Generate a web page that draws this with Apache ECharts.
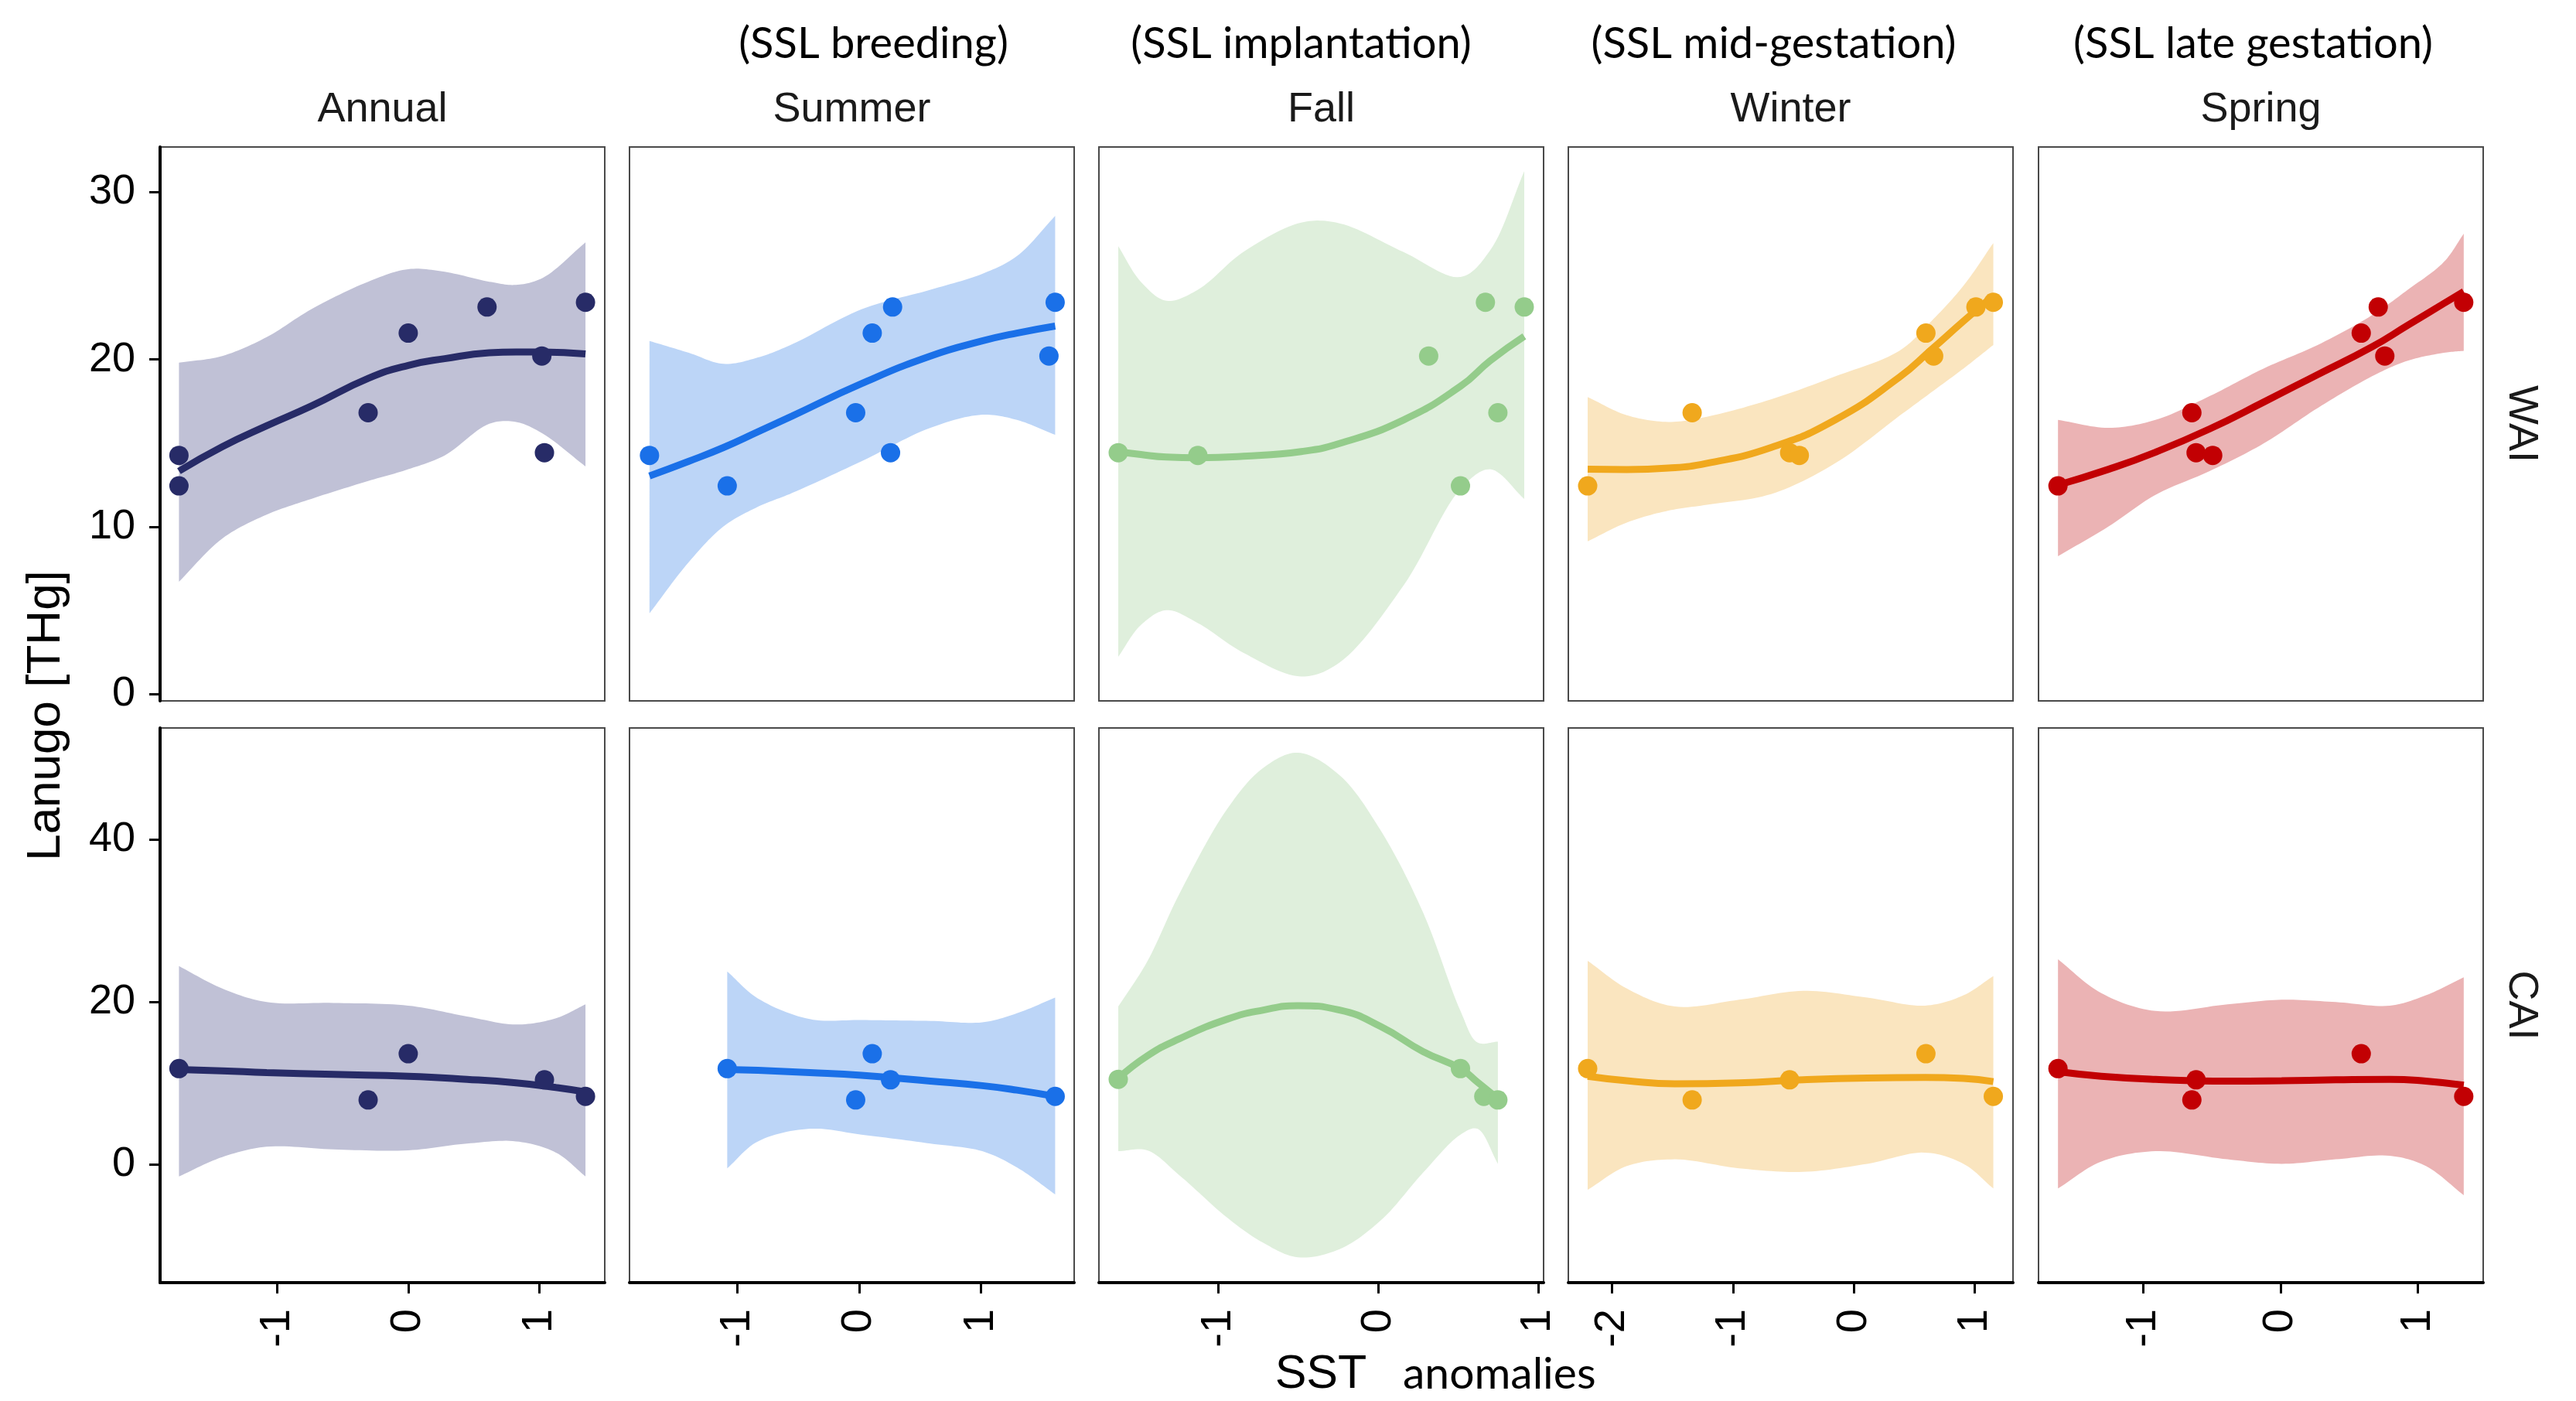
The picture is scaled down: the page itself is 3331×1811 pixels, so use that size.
<!DOCTYPE html>
<html>
<head>
<meta charset="utf-8">
<script src="https://cdn.jsdelivr.net/npm/echarts@6/dist/echarts.min.js"></script>
<style>
  html, body { margin: 0; background: #fff; }
  #chart { width: 3331px; height: 1811px; }
</style>
</head>
<body>
<div id="chart"></div>
<script>
// facet labels
const seasons = ['Annual', 'Summer', 'Fall', 'Winter', 'Spring'];
const phases = ['', '(SSL breeding)', '(SSL implantation)', '(SSL mid-gestation)', '(SSL late gestation)'];
const regions = ['WAI', 'CAI'];

// axes
const xRanges = [[-1.893, 1.499], [-1.884, 1.765], [-1.748, 1.034], [-2.363, 1.318], [-1.766, 1.479]];
const xTicks = [[-1, 0, 1], [-1, 0, 1], [-1, 0, 1], [-2, -1, 0, 1], [-1, 0, 1]];
const yRanges = [[-0.4, 32.7], [-14.5, 53.7]];
const yTicks = [[0, 10, 20, 30], [0, 20, 40]];

const lineColors = ['#272b67', '#1a70e8', '#94cc8b', '#f0a81d', '#c20003'];
const ribbonColors = ['#c0c1d6', '#bcd5f7', '#dfefdc', '#fae5bf', '#ebb3b4'];

// ---- WAI : points [SST anomaly, Lanugo THg] + smooth fit with band ----
const waiAnnualPts = [[-1.749, 14.27], [-1.749, 12.45], [-0.306, 16.82], [0, 21.58], [0.601, 23.14], [1.019, 20.21], [1.039, 14.43], [1.352, 23.42]];
const waiAnnualX = [-1.749, -1.419, -1.080, -0.740, -0.306, 0, 0.278, 0.618, 0.822, 1.026, 1.352];
const waiAnnualFit = [13.33, 14.79, 16.04, 17.22, 18.87, 19.65, 20.05, 20.40, 20.45, 20.45, 20.33];
const waiAnnualLo = [6.72, 9.30, 10.73, 11.67, 12.74, 13.44, 14.27, 16.16, 16.27, 15.57, 13.61];
const waiAnnualHi = [19.81, 20.21, 21.34, 23.00, 24.65, 25.40, 25.24, 24.65, 24.46, 24.88, 27.00];

const waiSummerPts = [[-1.720, 14.27], [-1.082, 12.45], [-0.028, 16.82], [0.108, 21.58], [0.275, 23.14], [0.258, 14.43], [1.558, 20.21], [1.609, 23.42]];
const waiSummerX = [-1.720, -1.397, -1.113, -0.830, -0.547, 0.020, 0.586, 1.011, 1.295, 1.609];
const waiSummerFit = [13.04, 13.92, 14.74, 15.68, 16.63, 18.56, 20.21, 21.11, 21.58, 22.00];
const waiSummerLo = [4.83, 7.90, 10.02, 11.20, 12.03, 13.92, 15.92, 16.70, 16.39, 15.50];
const waiSummerHi = [21.11, 20.40, 19.74, 20.12, 20.92, 23.00, 24.17, 25.12, 26.18, 28.58];

const waiFallPts = [[-1.627, 14.43], [-1.129, 14.27], [0.315, 20.21], [0.514, 12.45], [0.670, 23.42], [0.748, 16.82], [0.913, 23.14]];
const waiFallX = [-1.627, -1.486, -1.326, -1.129, -0.845, -0.483, -0.243, 0.158, 0.514, 0.700, 0.913];
const waiFallFit = [14.50, 14.32, 14.17, 14.13, 14.22, 14.50, 14.98, 16.39, 18.40, 19.93, 21.39];
const waiFallLo = [2.24, 4.13, 5.02, 4.25, 2.48, 1.06, 1.89, 6.50, 12.26, 13.44, 11.67];
const waiFallHi = [26.77, 24.65, 23.51, 24.17, 26.42, 28.18, 28.14, 26.42, 24.93, 26.53, 31.25];

const waiWinterPts = [[-2.203, 12.45], [-1.338, 16.82], [-0.531, 14.43], [-0.451, 14.27], [0.597, 21.58], [0.661, 20.21], [1.011, 23.14], [1.155, 23.42]];
const waiWinterX = [-2.203, -1.879, -1.534, -1.216, -0.685, -0.154, 0.377, 0.642, 0.908, 1.155];
const waiWinterFit = [13.44, 13.42, 13.51, 13.80, 14.74, 16.39, 18.94, 20.59, 22.29, 23.82];
const waiWinterLo = [9.13, 10.26, 10.97, 11.32, 11.96, 13.80, 16.63, 18.04, 19.46, 20.87];
const waiWinterHi = [17.76, 16.67, 16.27, 16.58, 17.62, 18.99, 20.52, 22.29, 24.41, 26.96];

const waiSpringPts = [[-1.624, 12.45], [-0.647, 16.82], [-0.616, 14.43], [-0.495, 14.27], [0.589, 21.58], [0.713, 23.14], [0.761, 20.21], [1.337, 23.42]];
const waiSpringX = [-1.624, -1.255, -0.913, -0.518, -0.124, 0.271, 0.666, 0.929, 1.192, 1.337];
const waiSpringFit = [12.50, 13.44, 14.46, 15.85, 17.45, 19.10, 20.75, 22.05, 23.35, 24.06];
const waiSpringLo = [8.25, 10.02, 11.91, 13.33, 14.98, 17.10, 18.99, 19.93, 20.40, 20.52];
const waiSpringHi = [16.39, 15.92, 16.39, 17.81, 19.46, 20.87, 22.64, 24.17, 25.83, 27.52];

// ---- CAI ----
const caiAnnualPts = [[-1.749, 11.82], [-0.306, 7.96], [0, 13.65], [1.039, 10.44], [1.352, 8.40]];
const caiAnnualX = [-1.749, -1.419, -1.080, -0.570, 0, 0.448, 0.822, 1.127, 1.352];
const caiAnnualFit = [11.71, 11.55, 11.33, 11.10, 10.88, 10.50, 10.06, 9.50, 8.95];
const caiAnnualLo = [-1.44, 0.94, 2.21, 1.88, 1.77, 2.60, 2.87, 1.49, -1.44];
const caiAnnualHi = [24.42, 21.66, 20.00, 19.89, 19.56, 18.23, 17.24, 18.01, 19.72];

const caiSummerPts = [[-1.082, 11.82], [-0.028, 7.96], [0.108, 13.65], [0.258, 10.44], [1.609, 8.40]];
const caiSummerX = [-1.082, -0.830, -0.405, 0.020, 0.586, 1.011, 1.295, 1.609];
const caiSummerFit = [11.71, 11.60, 11.33, 10.99, 10.28, 9.72, 9.17, 8.40];
const caiSummerLo = [-0.44, 2.87, 4.42, 3.70, 2.60, 1.66, -0.33, -3.65];
const caiSummerHi = [23.76, 20.44, 17.90, 17.79, 17.68, 17.51, 18.62, 20.55];

const caiFallPts = [[-1.627, 10.50], [0.514, 11.82], [0.660, 8.40], [0.748, 7.96]];
const caiFallX = [-1.627, -1.446, -1.246, -0.945, -0.724, -0.504, -0.243, 0.018, 0.279, 0.514, 0.620, 0.748];
const caiFallFit = [10.61, 13.37, 15.47, 17.90, 19.00, 19.56, 19.01, 16.96, 13.92, 11.82, 10.17, 8.12];
const caiFallLo = [1.66, 1.77, -1.27, -6.52, -9.56, -11.38, -10.39, -6.80, -0.99, 3.70, 4.42, 0.11];
const caiFallHi = [19.45, 24.97, 33.26, 43.76, 48.73, 50.66, 47.90, 40.99, 31.05, 18.90, 15.03, 15.14];

const caiWinterPts = [[-2.203, 11.82], [-1.338, 7.96], [-0.531, 10.44], [0.597, 13.65], [1.155, 8.40]];
const caiWinterX = [-2.203, -1.879, -1.481, -0.950, -0.419, 0.111, 0.589, 0.908, 1.155];
const caiWinterFit = [10.88, 10.33, 9.94, 10.06, 10.44, 10.66, 10.72, 10.61, 10.22];
const caiWinterLo = [-3.09, -0.17, 0.66, -0.44, -0.88, 0.11, 1.49, 0.11, -2.93];
const caiWinterHi = [25.08, 21.66, 19.45, 20.28, 21.38, 20.55, 19.56, 20.83, 23.20];

const caiSpringPts = [[-1.624, 11.82], [-0.616, 10.44], [-0.647, 7.96], [0.589, 13.65], [1.337, 8.40]];
const caiSpringX = [-1.624, -1.308, -0.913, -0.387, 0.008, 0.403, 0.797, 1.061, 1.337];
const caiSpringFit = [11.44, 10.88, 10.50, 10.28, 10.33, 10.44, 10.50, 10.28, 9.78];
const caiSpringLo = [-2.93, 0.39, 1.66, 0.66, 0.11, 0.66, 1.10, -0.17, -3.76];
const caiSpringHi = [25.25, 21.10, 18.90, 19.72, 20.28, 20.00, 19.56, 20.83, 23.04];

// rows: WAI then CAI, columns follow seasons
const panels = [
  [waiAnnualPts, waiAnnualX, waiAnnualFit, waiAnnualLo, waiAnnualHi],
  [waiSummerPts, waiSummerX, waiSummerFit, waiSummerLo, waiSummerHi],
  [waiFallPts, waiFallX, waiFallFit, waiFallLo, waiFallHi],
  [waiWinterPts, waiWinterX, waiWinterFit, waiWinterLo, waiWinterHi],
  [waiSpringPts, waiSpringX, waiSpringFit, waiSpringLo, waiSpringHi],
  [caiAnnualPts, caiAnnualX, caiAnnualFit, caiAnnualLo, caiAnnualHi],
  [caiSummerPts, caiSummerX, caiSummerFit, caiSummerLo, caiSummerHi],
  [caiFallPts, caiFallX, caiFallFit, caiFallLo, caiFallHi],
  [caiWinterPts, caiWinterX, caiWinterFit, caiWinterLo, caiWinterHi],
  [caiSpringPts, caiSpringX, caiSpringFit, caiSpringLo, caiSpringHi]
];

// layout (px)
const panelLeft = [207, 814, 1421, 2028, 2636];
const panelW = 575;
const panelTop = [190, 941];
const panelH = [716, 717];
const phaseShift = [0, 28, -26, -22, -10];

const sansFont = '"Liberation Sans", Arial, sans-serif';
const noteFont = 'Lato, "Open Sans", sans-serif';

const zip = (xs, ys) => xs.map((x, i) => [x, ys[i]]);

// centripetal catmull-rom through pixel points, only to draw a round band outline
const spline = (pts, steps) => {
  const n = pts.length, out = [];
  const get = k => {
    if (k < 0) return [2 * pts[0][0] - pts[1][0], 2 * pts[0][1] - pts[1][1]];
    if (k > n - 1) return [2 * pts[n - 1][0] - pts[n - 2][0], 2 * pts[n - 1][1] - pts[n - 2][1]];
    return pts[k];
  };
  const knot = (a, b) => Math.pow(Math.hypot(b[0] - a[0], b[1] - a[1]), 0.5) || 1e-6;
  const mix = (a, b, ta, tb, t) => [0, 1].map(d => ((tb - t) * a[d] + (t - ta) * b[d]) / (tb - ta));
  for (let i = 0; i < n - 1; i++) {
    const p0 = get(i - 1), p1 = get(i), p2 = get(i + 1), p3 = get(i + 2);
    const t0 = 0, t1 = t0 + knot(p0, p1), t2 = t1 + knot(p1, p2), t3 = t2 + knot(p2, p3);
    for (let s = 0; s < steps; s++) {
      const t = t1 + (t2 - t1) * s / steps;
      const a1 = mix(p0, p1, t0, t1, t), a2 = mix(p1, p2, t1, t2, t), a3 = mix(p2, p3, t2, t3, t);
      const b1 = mix(a1, a2, t0, t2, t), b2 = mix(a2, a3, t1, t3, t);
      out.push(mix(b1, b2, t1, t2, t));
    }
  }
  out.push(pts[n - 1]);
  return out;
};

const grids = [], xAxes = [], yAxes = [], series = [];

panels.forEach((p, i) => {
  const row = Math.floor(i / 5), col = i % 5;
  const [pts, xs, fit, lo, hi] = p;
  const isBottom = row === 1, isLeft = col === 0;

  grids.push({
    left: panelLeft[col], top: panelTop[row], width: panelW, height: panelH[row],
    show: true, borderColor: '#4a4a4a', borderWidth: 2, backgroundColor: 'transparent'
  });
  xAxes.push({
    gridIndex: i, type: 'value', min: xRanges[col][0], max: xRanges[col][1],
    axisLine: { show: isBottom, onZero: false, lineStyle: { color: '#000', width: 4 } },
    axisTick: { show: isBottom, customValues: xTicks[col], length: 14, lineStyle: { color: '#000', width: 3 } },
    axisLabel: {
      show: isBottom, customValues: xTicks[col], rotate: 90, margin: 34,
      fontSize: 56, fontFamily: sansFont, color: '#000'
    },
    splitLine: { show: false }
  });
  yAxes.push({
    gridIndex: i, type: 'value', min: yRanges[row][0], max: yRanges[row][1],
    axisLine: { show: isLeft, onZero: false, lineStyle: { color: '#000', width: 4 } },
    axisTick: { show: isLeft, customValues: yTicks[row], length: 14, lineStyle: { color: '#000', width: 3 } },
    axisLabel: {
      show: isLeft, customValues: yTicks[row], margin: 32,
      fontSize: 54, fontFamily: sansFont, color: '#000'
    },
    splitLine: { show: false }
  });

  // confidence band: one polygon, upper edge then lower edge back
  series.push({
    type: 'custom', xAxisIndex: i, yAxisIndex: i,
    data: xs.map((x, k) => [x, lo[k], hi[k]]),
    renderItem: (params, api) => {
      if (params.dataIndex !== 0) return null;
      const up = xs.map((x, k) => api.coord([x, hi[k]]));
      const dn = xs.map((x, k) => api.coord([x, lo[k]])).reverse();
      return {
        type: 'polygon',
        shape: { points: spline(up, 14).concat(spline(dn, 14)) },
        style: { fill: ribbonColors[col] }
      };
    },
    clip: true, z: 1, silent: true
  });
  // fitted curve
  series.push({
    type: 'line', xAxisIndex: i, yAxisIndex: i, data: zip(xs, fit),
    smooth: true, symbol: 'none', lineStyle: { color: lineColors[col], width: 9 }, z: 3, silent: true
  });
  // observations
  series.push({
    type: 'scatter', xAxisIndex: i, yAxisIndex: i, data: pts,
    symbolSize: 25, itemStyle: { color: lineColors[col], opacity: 1 }, z: 4, silent: true
  });
});

// facet strips, notes and axis titles
const graphics = [];
seasons.forEach((s, c) => {
  const cx = panelLeft[c] + panelW / 2;
  graphics.push({
    type: 'text', x: cx, y: 142,
    style: { text: s, fontSize: 54, fontFamily: sansFont, fill: '#1a1a1a', align: 'center', verticalAlign: 'middle' }
  });
  if (phases[c]) {
    graphics.push({
      type: 'text', x: cx + phaseShift[c], y: 57,
      style: { text: phases[c], fontSize: 56, fontFamily: noteFont, fill: '#000', align: 'center', verticalAlign: 'middle' }
    });
  }
});
regions.forEach((r, k) => {
  graphics.push({
    type: 'text', x: 3260, y: panelTop[k] + panelH[k] / 2, rotation: -Math.PI / 2,
    style: { text: r, fontSize: 54, fontFamily: sansFont, fill: '#1a1a1a', align: 'center', verticalAlign: 'middle' }
  });
});
graphics.push({
  type: 'text', x: 60, y: 925, rotation: Math.PI / 2,
  style: { text: 'Lanugo [THg]', fontSize: 62, fontFamily: sansFont, fill: '#000', align: 'center', verticalAlign: 'middle' }
});
graphics.push({
  type: 'text', x: 1708, y: 1777,
  style: { text: 'SST', fontSize: 61, fontFamily: sansFont, fill: '#000', align: 'center', verticalAlign: 'middle' }
});
graphics.push({
  type: 'text', x: 1814, y: 1777,
  style: { text: 'anomalies', fontSize: 57, fontFamily: noteFont, fill: '#000', align: 'left', verticalAlign: 'middle' }
});

const chart = echarts.init(document.getElementById('chart'), null, { renderer: 'canvas' });
chart.setOption({
  animation: false,
  backgroundColor: '#fff',
  grid: grids,
  xAxis: xAxes,
  yAxis: yAxes,
  series: series,
  graphic: graphics
});
</script>
</body>
</html>
